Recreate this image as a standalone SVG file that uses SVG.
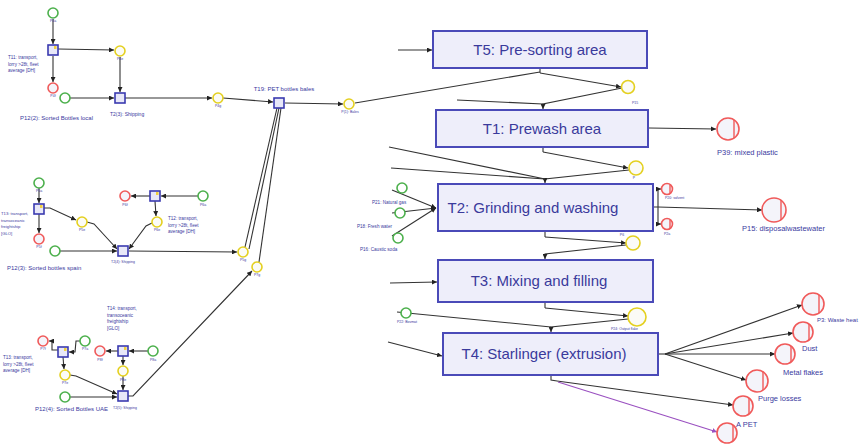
<svg xmlns="http://www.w3.org/2000/svg" width="859" height="446" viewBox="0 0 859 446">
<defs>
<marker id="a" viewBox="0 0 6 6" refX="6" refY="3" markerWidth="5" markerHeight="5" orient="auto" markerUnits="userSpaceOnUse"><path d="M0,0L6,3L0,6z" fill="#222"/></marker>
<marker id="ap" viewBox="0 0 6 6" refX="6" refY="3" markerWidth="5" markerHeight="5" orient="auto" markerUnits="userSpaceOnUse"><path d="M0,0L6,3L0,6z" fill="#9a50c0"/></marker>
<style>
.box{fill:#eeeefa;stroke:#4a4ab8;stroke-width:2}
.big{font-family:"Liberation Sans",Arial,sans-serif;font-size:15px;fill:#3a3a9c;text-anchor:middle}
.c{stroke:#333;stroke-width:1.1;fill:none}
.ca{stroke:#333;stroke-width:1.1;fill:none;marker-end:url(#a)}
.y{fill:#fbfbf6;stroke:#e4d020;stroke-width:1.6}
.g{fill:#fff;stroke:#4cb04c;stroke-width:1.6}
.r{fill:#f4f4fa;stroke:#f05a5a;stroke-width:1.6}
.rl{stroke:#f05a5a;stroke-width:1.4}
.tr{fill:#e8e8f8;stroke:#3a3ab0;stroke-width:1.6}
.lb{font-family:"Liberation Sans",Arial,sans-serif;fill:#3a3aa0}
.s{font-size:4.6px}
.m{font-size:6px}
.l{font-size:7.5px}
.t{font-size:3.5px;text-anchor:middle}
.mk{fill:#f0d040}
</style>
</defs>
<rect width="859" height="446" fill="#fff"/>

<g id="connectors">
<path class="ca" d="M53,19L53,44"/>
<path class="ca" d="M58,49L114,50"/>
<path class="ca" d="M53,56L53,82"/>
<path class="ca" d="M120,57L120,92"/>
<path class="ca" d="M70,98L114,98"/>
<path class="ca" d="M125,98L212,98"/>
<path class="ca" d="M223,98L273,102"/>
<path class="ca" d="M285,103L343,104"/>
<path class="c" d="M355,103L540,72"/>
<path class="ca" d="M39,188L39,203"/>
<path class="ca" d="M39,214L39,233"/>
<path class="ca" d="M44,208L50,208L76,220"/>
<path class="ca" d="M87,222L94,224L117,249"/>
<path class="ca" d="M60,251L117,251"/>
<path class="ca" d="M198,196L161,196"/>
<path class="ca" d="M150,196L131,196"/>
<path class="ca" d="M155,201L156,216"/>
<path class="ca" d="M152,223L146,226L129,249"/>
<path class="ca" d="M129,251L237,252"/>
<path class="c" d="M245,247L277,108"/>
<path class="c" d="M259,262L281,108"/>
<path class="c" d="M249,249L279,108"/>
<path class="ca" d="M58,350L52,350L52,341L49,341"/>
<path class="ca" d="M80,341L76,341L75,352L69,352"/>
<path class="ca" d="M63,357L64,369"/>
<path class="ca" d="M70,375L76,376L117,394"/>
<path class="ca" d="M70,397L117,397"/>
<path class="ca" d="M148,351L129,351"/>
<path class="ca" d="M118,351L106,351"/>
<path class="ca" d="M123,356L123,365"/>
<path class="ca" d="M123,376L123,390"/>
<path class="ca" d="M128,396L133,396L252,271"/>
<path class="ca" d="M398,50L432,50"/>
<path class="c" d="M540,68L540,73"/>
<path class="ca" d="M540,73L621,87"/>
<path class="ca" d="M622,88L543,104L543,109"/>
<path class="c" d="M457,100L543,104"/>
<path class="ca" d="M649,128L716,129"/>
<path class="c" d="M543,147L543,152"/>
<path class="ca" d="M543,152L628,168"/>
<path class="ca" d="M629,170L545,179L545,183"/>
<path class="c" d="M389,147L545,179"/>
<path class="c" d="M391,168L545,179"/>
<path class="ca" d="M392,190L436,208"/>
<path class="ca" d="M392,213L436,208"/>
<path class="ca" d="M392,236L436,208"/>
<path class="c" d="M653,207L658,207M658,189L658,224"/>
<path class="ca" d="M658,189L661,189"/>
<path class="ca" d="M658,224L661,224"/>
<path class="ca" d="M658,207L762,210"/>
<path class="c" d="M545,231L545,237"/>
<path class="ca" d="M545,237L626,243"/>
<path class="ca" d="M626,245L545,254L545,259"/>
<path class="ca" d="M390,283L437,282"/>
<path class="c" d="M545,302L545,308"/>
<path class="ca" d="M545,308L628,316"/>
<path class="ca" d="M628,319L551,327L551,332"/>
<path class="c" d="M397,312L551,327"/>
<path class="ca" d="M388,342L442,356"/>
<path class="c" d="M658,354L665,354"/>
<path class="ca" d="M665,354L802,305"/>
<path class="ca" d="M665,354L793,333"/>
<path class="ca" d="M665,354L775,354"/>
<path class="ca" d="M665,354L746,380"/>
<path class="c" d="M551,375L551,380L557,381"/>
<path class="ca" d="M557,381L733,405"/>
<path d="M558,382L717,432" stroke="#9a50c0" stroke-width="1.1" fill="none" marker-end="url(#ap)"/>
</g>

<g id="T5"><rect class="box" x="433" y="31" width="214" height="37"/><text class="big" x="540" y="55">T5: Pre-sorting area</text></g>
<g id="T1"><rect class="box" x="436" y="110" width="212" height="37"/><text class="big" x="542" y="134">T1: Prewash area</text></g>
<g id="T2"><rect class="box" x="438" y="184" width="215" height="47"/><text class="big" x="533" y="213">T2: Grinding and washing</text></g>
<g id="T3"><rect class="box" x="438" y="260" width="215" height="42"/><text class="big" x="539" y="286">T3: Mixing and filling</text></g>
<g id="T4"><rect class="box" x="443" y="333" width="215" height="42"/><text class="big" x="544" y="359">T4: Starlinger (extrusion)</text></g>

<g id="P15"><circle class="y" cx="628" cy="87" r="6.5"/><text class="lb t" x="635" y="104">P15</text></g>
<g id="P39"><circle class="r" cx="728" cy="129" r="11"/><line class="rl" x1="734" y1="120" x2="734" y2="138"/><text class="lb l" x="717" y="155">P39: mixed plastic</text></g>
<g id="PT1out"><circle class="y" cx="636" cy="168" r="7"/><text class="lb t" x="634" y="179">P</text></g>
<g id="P21"><circle class="g" cx="402" cy="188" r="5"/><text class="lb" font-size="4.6" x="372" y="204">P21: Natural gas</text></g>
<g id="P18"><circle class="g" cx="400" cy="213" r="5"/><text class="lb" font-size="4.6" x="357" y="228">P18: Fresh water</text></g>
<g id="P16"><circle class="g" cx="398" cy="238" r="5"/><text class="lb" font-size="4.6" x="360" y="251">P16: Caustic soda</text></g>
<g id="PT2r1"><circle class="r" cx="667" cy="189" r="5.5"/><line class="rl" x1="670" y1="185" x2="670" y2="193"/><text class="lb" font-size="3.5" x="665" y="199">P20: solvent</text></g>
<g id="PT2r2"><circle class="r" cx="667" cy="224" r="5.5"/><line class="rl" x1="670" y1="220" x2="670" y2="228"/><text class="lb" font-size="3.5" x="664" y="235">P2a</text></g>
<g id="P15w"><circle class="r" cx="774" cy="210" r="12"/><line class="rl" x1="781" y1="200" x2="781" y2="220"/><text class="lb l" x="742" y="231">P15: disposalwastewater</text></g>
<g id="PT2out"><circle class="y" cx="633" cy="243" r="7"/><text class="lb t" x="622" y="236">P6</text></g>
<g id="POut"><circle class="y" cx="637" cy="317" r="9"/><text class="lb" font-size="3.5" x="611" y="330">P24: Output flake</text></g>
<g id="PBov"><circle class="g" cx="406" cy="313" r="5"/><text class="lb" font-size="3.5" x="397" y="323">P22: Bovmat</text></g>
<g id="P3"><circle class="r" cx="813" cy="304" r="11"/><line class="rl" x1="819" y1="295" x2="819" y2="313"/><text class="lb m" x="817" y="322">P3: Waste heat</text></g>
<g id="Dust"><circle class="r" cx="803" cy="332" r="10"/><line class="rl" x1="809" y1="324" x2="809" y2="340"/><text class="lb l" x="802" y="351">Dust</text></g>
<g id="Metal"><circle class="r" cx="785" cy="354" r="10"/><line class="rl" x1="791" y1="346" x2="791" y2="362"/><text class="lb l" x="783" y="375">Metal flakes</text></g>
<g id="Purge"><circle class="r" cx="757" cy="381" r="11"/><line class="rl" x1="763" y1="372" x2="763" y2="390"/><text class="lb l" x="758" y="401">Purge losses</text></g>
<g id="APET"><circle class="r" cx="743" cy="406" r="10"/><line class="rl" x1="749" y1="398" x2="749" y2="414"/><text class="lb l" x="736" y="427">A PET</text></g>
<g id="Plast"><circle class="r" cx="727" cy="433" r="10"/><line class="rl" x1="733" y1="425" x2="733" y2="441"/></g>

<g id="T11"><rect class="tr" x="48" y="45" width="10" height="10"/><rect class="mk" x="54" y="46" width="2.5" height="3"/>
<text class="lb s" x="8" y="59">T11: transport,</text><text class="lb s" x="8" y="65.5">lorry &gt;28t, fleet</text><text class="lb s" x="8" y="72">average [DH]</text></g>
<g id="P11a"><circle class="g" cx="53" cy="13" r="5"/><text class="lb t" x="53" y="22">P4a</text></g>
<g id="P11r"><circle class="r" cx="53" cy="88" r="5"/><text class="lb t" x="53" y="97">P4f</text></g>
<g id="P11y"><circle class="y" cx="120" cy="51" r="5"/><text class="lb t" x="120" y="60">P4e</text></g>
<g id="P12_2"><circle class="g" cx="65" cy="98" r="5"/><text class="lb m" x="20" y="120">P12(2): Sorted Bottles local</text></g>
<g id="T2_3"><rect class="tr" x="115" y="93" width="10" height="10"/><text class="lb" font-size="5" x="110" y="116">T2(3): Shipping</text></g>
<g id="P2_3y"><circle class="y" cx="218" cy="98" r="5"/><text class="lb t" x="218" y="107">P4g</text></g>
<g id="T19"><rect class="tr" x="274" y="98" width="10" height="10"/><text class="lb m" text-anchor="middle" x="284" y="91">T19: PET bottles bales</text></g>
<g id="P1b"><circle class="y" cx="349" cy="104" r="5"/><text class="lb t" x="350" y="113">P(1): Bales</text></g>

<g id="T13m"><rect class="tr" x="34" y="204" width="10" height="10"/><rect class="mk" x="40" y="205" width="2.5" height="3"/>
<text class="lb" font-size="4.2" x="1" y="215">T13: transport,</text><text class="lb" font-size="4.2" x="1" y="221.5">transoceanic</text><text class="lb" font-size="4.2" x="1" y="228">freightship</text><text class="lb" font-size="4.2" x="1" y="234.5">[GLO]</text></g>
<g id="Pm1"><circle class="g" cx="39" cy="183" r="5"/><text class="lb t" x="39" y="192">P5a</text></g>
<g id="Pm2"><circle class="r" cx="39" cy="239" r="5"/><text class="lb t" x="39" y="248">P5f</text></g>
<g id="Pm3"><circle class="y" cx="82" cy="222" r="5"/><text class="lb t" x="82" y="231">P5e</text></g>
<g id="P12_3"><circle class="g" cx="55" cy="251" r="5"/><text class="lb m" x="7" y="270">P12(3): Sorted bottles spain</text></g>
<g id="T2_4"><rect class="tr" x="118" y="246" width="10" height="10"/><text class="lb t" x="123" y="263">T2(4): Shipping</text></g>
<g id="T12"><rect class="tr" x="150" y="191" width="10" height="10"/><rect class="mk" x="156" y="192" width="2.5" height="3"/>
<text class="lb s" x="168" y="220">T12: transport,</text><text class="lb s" x="168" y="226.5">lorry &gt;28t, fleet</text><text class="lb s" x="168" y="233">average [DH]</text></g>
<g id="Pm4"><circle class="r" cx="125" cy="196" r="5"/><text class="lb t" x="125" y="206">P6f</text></g>
<g id="Pm5"><circle class="g" cx="203" cy="196" r="5"/><text class="lb t" x="203" y="206">P6a</text></g>
<g id="Pm6"><circle class="y" cx="157" cy="222" r="5"/><text class="lb t" x="157" y="231">P6e</text></g>
<g id="Pm7"><circle class="y" cx="243" cy="252" r="5"/><text class="lb t" x="243" y="261">P5g</text></g>
<g id="Pm8"><circle class="y" cx="257" cy="267" r="5"/><text class="lb t" x="257" y="276">P7g</text></g>

<g id="T13"><rect class="tr" x="58" y="347" width="10" height="10"/><rect class="mk" x="64" y="348" width="2.5" height="3"/>
<text class="lb s" x="3" y="359">T13: transport,</text><text class="lb s" x="3" y="365.5">lorry &gt;28t, fleet</text><text class="lb s" x="3" y="372">average [DH]</text></g>
<g id="Pb1"><circle class="r" cx="43" cy="341" r="5"/><text class="lb t" x="43" y="350">P7f</text></g>
<g id="Pb2"><circle class="g" cx="85" cy="341" r="5"/><text class="lb t" x="85" y="350">P7a</text></g>
<g id="Pb3"><circle class="y" cx="65" cy="375" r="5"/><text class="lb t" x="65" y="384">P7e</text></g>
<g id="P12_4"><circle class="g" cx="65" cy="397" r="5"/><text class="lb m" x="35" y="411">P12(4): Sorted Bottles UAE</text></g>
<g id="T2_5"><rect class="tr" x="118" y="391" width="10" height="10"/><text class="lb t" x="125" y="409">T2(5): Shipping</text></g>
<g id="T14"><rect class="tr" x="118" y="346" width="10" height="10"/><rect class="mk" x="124" y="347" width="2.5" height="3"/>
<text class="lb s" x="107" y="310">T14: transport,</text><text class="lb s" x="107" y="316.5">transoceanic</text><text class="lb s" x="107" y="323">freightship</text><text class="lb s" x="107" y="329.5">[GLO]</text></g>
<g id="Pb4"><circle class="r" cx="100" cy="351" r="5"/><text class="lb t" x="100" y="361">P8f</text></g>
<g id="Pb5"><circle class="g" cx="153" cy="351" r="5"/><text class="lb t" x="153" y="361">P8a</text></g>
<g id="Pb6"><circle class="y" cx="123" cy="371" r="5"/><text class="lb t" x="123" y="381">P8e</text></g>
</svg>
